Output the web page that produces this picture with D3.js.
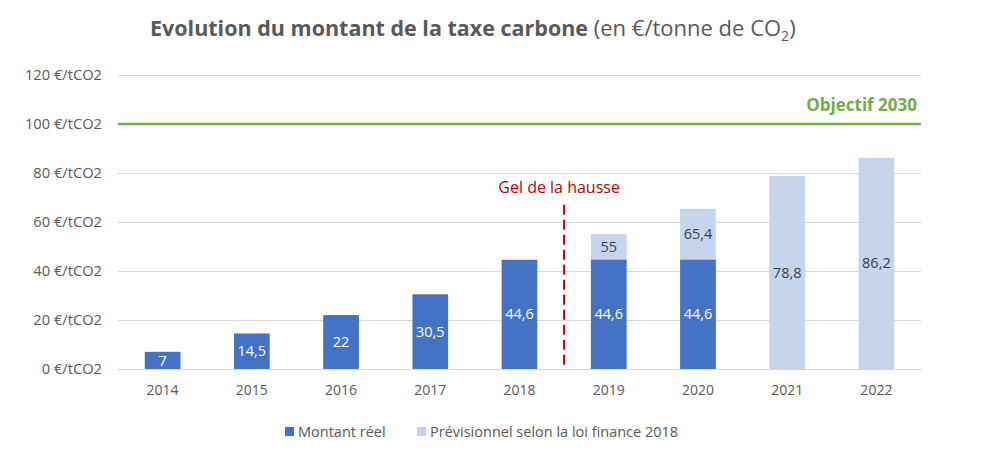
<!DOCTYPE html>
<html>
<head>
<meta charset="utf-8">
<script src="https://cdn.jsdelivr.net/npm/d3@7"></script>
<style>
	body { margin: 0; background: #fff; }
	text { font-family: "Open Sans", sans-serif; }
</style>
</head>
<body>
<script>
// data
var years = ["2014", "2015", "2016", "2017", "2018", "2019", "2020", "2021", "2022"];
var montantReel = [7, 14.5, 22, 30.5, 44.6, 44.6, 44.6, 0, 0];
var previsionnel = [0, 0, 0, 0, 0, 55, 65.4, 78.8, 86.2]; // forecast totals
var yTicks = [0, 20, 40, 60, 80, 100, 120];
var objectif = 100;
var seriesNames = ["Montant réel", "Prévisionnel selon la loi finance 2018"];

var width = 1003, height = 464;
var margin = {left: 118, right: 82, top: 75, bottom: 95};

var svg = d3.select("body").append("svg")
	.attr("width", width)
	.attr("height", height);

var x = d3.scaleBand()
	.domain(years)
	.range([margin.left, width - margin.right])
	.paddingInner(0.6)
	.paddingOuter(0.3);

var y = d3.scaleLinear()
	.domain([0, 120])
	.range([height - margin.bottom, margin.top]);

var fmt = function(v) { return String(v).replace(".", ","); };

var reelData = years.map(function(d, i) { return {year: d, v: montantReel[i]}; })
	.filter(function(d) { return d.v > 0; });
var prevData = years.map(function(d, i) { return {year: d, v: previsionnel[i], base: montantReel[i]}; })
	.filter(function(d) { return d.v > 0; });

// title
var title = svg.append("text")
	.attr("x", 150)
	.attr("y", 36)
	.attr("fill", "#595959");
title.append("tspan").attr("font-weight", "bold").style("font-size", "21.5px")
	.text("Evolution du montant de la taxe carbone");
title.append("tspan").style("font-size", "22px").text(" (en €/tonne de CO");
title.append("tspan").attr("dy", 5).style("font-size", "14px").text("2");
title.append("tspan").attr("dy", -5).style("font-size", "22px").text(")");

// gridlines + y labels
var yAxis = d3.axisLeft(y)
	.tickValues(yTicks)
	.tickSize(-(width - margin.left - margin.right))
	.tickPadding(16)
	.tickFormat(function(d) { return d + " €/tCO2"; });

var ga = svg.append("g")
	.attr("transform", "translate(" + margin.left + ",0)")
	.call(yAxis);
ga.select(".domain").remove();
ga.selectAll("line").attr("stroke", "#d9d9d9");
ga.selectAll("text")
	.attr("fill", "#595959")
	.style("font-size", "14.7px");

// x labels
var xa = svg.append("g")
	.attr("transform", "translate(0," + y(0) + ")")
	.call(d3.axisBottom(x).tickSize(0).tickPadding(16));
xa.select(".domain").attr("stroke", "#d9d9d9");
xa.selectAll("text")
	.attr("fill", "#595959")
	.style("font-size", "14px");

// previsionnel bars (behind)
svg.selectAll(".prev")
	.data(prevData)
	.enter().append("rect")
	.attr("class", "prev")
	.attr("x", function(d) { return x(d.year); })
	.attr("width", x.bandwidth())
	.attr("y", function(d) { return y(d.v); })
	.attr("height", function(d) { return y(0) - y(d.v); })
	.attr("fill", "#c6d4ee");

// reel bars
svg.selectAll(".reel")
	.data(reelData)
	.enter().append("rect")
	.attr("class", "reel")
	.attr("x", function(d) { return x(d.year); })
	.attr("width", x.bandwidth())
	.attr("y", function(d) { return y(d.v); })
	.attr("height", function(d) { return y(0) - y(d.v); })
	.attr("fill", "#4472c4");

// labels
svg.selectAll(".reel-lbl")
	.data(reelData)
	.enter().append("text")
	.attr("x", function(d) { return x(d.year) + x.bandwidth() / 2; })
	.attr("y", function(d) { return y(d.v / 2); })
	.attr("dy", "0.35em")
	.attr("text-anchor", "middle")
	.attr("fill", "#fff")
	.style("font-size", "14.5px")
	.text(function(d) { return fmt(d.v); });

svg.selectAll(".prev-lbl")
	.data(prevData)
	.enter().append("text")
	.attr("x", function(d) { return x(d.year) + x.bandwidth() / 2; })
	.attr("y", function(d) { return y((d.base + d.v) / 2); })
	.attr("dy", "0.35em")
	.attr("text-anchor", "middle")
	.attr("fill", "#404040")
	.style("font-size", "14.5px")
	.text(function(d) { return fmt(d.v); });

// objectif 2030
svg.append("line")
	.attr("x1", margin.left)
	.attr("x2", width - margin.right)
	.attr("y1", y(objectif))
	.attr("y2", y(objectif))
	.attr("stroke", "#70ad47")
	.attr("stroke-width", 2.5);
svg.append("text")
	.attr("x", width - margin.right - 4)
	.attr("y", y(objectif) - 13)
	.attr("text-anchor", "end")
	.attr("fill", "#70ad47")
	.attr("font-weight", "bold")
	.style("font-size", "17px")
	.text("Objectif 2030");

// gel de la hausse
var gx = x("2018") + x.bandwidth() + (x.step() - x.bandwidth()) / 2;
svg.append("line")
	.attr("x1", gx)
	.attr("x2", gx)
	.attr("y1", y(67))
	.attr("y2", y(0))
	.attr("stroke", "#c00000")
	.attr("stroke-width", 2)
	.attr("stroke-dasharray", "10,5");
svg.append("text")
	.attr("x", gx - 5)
	.attr("y", y(72))
	.attr("text-anchor", "middle")
	.attr("fill", "#c00000")
	.style("font-size", "16px")
	.text("Gel de la hausse");

// legend
var legend = svg.append("g");
var legX = [285, 417];
var legCol = ["#4472c4", "#c6d4ee"];
seriesNames.forEach(function(name, i) {
	legend.append("rect")
		.attr("x", legX[i])
		.attr("y", 427)
		.attr("width", 9)
		.attr("height", 9)
		.attr("fill", legCol[i]);
	legend.append("text")
		.attr("x", legX[i] + 13)
		.attr("y", 432)
		.attr("dy", "0.35em")
		.attr("fill", "#595959")
		.style("font-size", "14.5px")
		.text(name);
});
</script>
</body>
</html>
